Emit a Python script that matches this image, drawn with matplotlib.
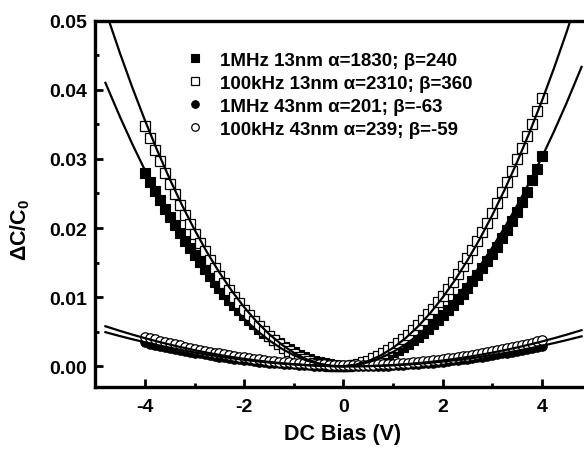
import numpy as np
import matplotlib
matplotlib.use("Agg")
import matplotlib.pyplot as plt

plt.rcParams['font.family'] = ['Liberation Sans', 'DejaVu Sans']
plt.rcParams['font.weight'] = 'bold'
plt.rcParams['axes.unicode_minus'] = False
plt.rcParams['mathtext.fontset'] = 'custom'
plt.rcParams['mathtext.rm'] = 'Liberation Sans:bold'
plt.rcParams['mathtext.it'] = 'Liberation Sans:bold'
plt.rcParams['mathtext.bf'] = 'Liberation Sans:bold'

# ---------------- data (values in units of 1e-6) ----------------
bias = [round(-4.0 + 0.1 * i, 1) for i in range(81)]

sq_1MHz_13nm = [28000, 26657, 25346, 24069, 22824, 21613, 20434, 19289, 18176, 17097,
                16050, 15037, 14056, 13109, 12194, 11313, 10464, 9649, 8866, 8117,
                7400, 6717, 6066, 5449, 4864, 4313, 3794, 3309, 2856, 2437,
                2050, 1697, 1376, 1089, 834, 613, 424, 269, 146, 57,
                0,
                47, 128, 243, 392, 575, 792, 1043, 1328, 1647, 2000,
                2387, 2808, 3263, 3752, 4275, 4832, 5423, 6048, 6707, 7400,
                8127, 8888, 9683, 10512, 11375, 12272, 13203, 14168, 15167, 16200,
                17317, 18488, 19703, 20972, 22325, 23762, 25283, 26880, 28600, 30400]

sq_100kHz_13nm = [34800, 33033, 31312, 29637, 28008, 26425, 24888, 23397, 21952, 20553,
                  19200, 17893, 16632, 15417, 14248, 13125, 12048, 11017, 10032, 9093,
                  8200, 7353, 6552, 5797, 5088, 4425, 3808, 3237, 2712, 2233,
                  1800, 1413, 1072, 777, 528, 325, 168, 57, -8, -27,
                  0,
                  73, 192, 357, 568, 825, 1128, 1477, 1872, 2313, 2800,
                  3333, 3912, 4537, 5208, 5925, 6688, 7497, 8352, 9253, 10200,
                  11193, 12232, 13317, 14448, 15625, 16848, 18117, 19432, 20793, 22200,
                  23653, 25152, 26697, 28288, 29925, 31608, 33337, 35112, 36933, 38800]

ci_1MHz_43nm = [3440, 3276, 3116, 2960, 2808, 2660, 2516, 2376, 2240, 2108,
                1980, 1856, 1736, 1620, 1508, 1400, 1296, 1196, 1100, 1008,
                920, 836, 756, 680, 608, 540, 476, 416, 360, 308,
                260, 216, 176, 140, 108, 80, 56, 36, 20, 8,
                0,
                -4, -4, 0, 8, 20, 36, 56, 80, 108, 140,
                176, 216, 260, 308, 360, 416, 476, 540, 608, 680,
                756, 836, 920, 1008, 1100, 1196, 1296, 1400, 1508, 1620,
                1736, 1856, 1980, 2108, 2240, 2376, 2516, 2660, 2808, 2960]

ci_100kHz_43nm = [4280, 4084, 3894, 3708, 3526, 3350, 3178, 3012, 2850, 2692,
                  2540, 2392, 2250, 2112, 1978, 1850, 1726, 1608, 1494, 1384,
                  1280, 1180, 1086, 996, 910, 830, 754, 684, 618, 556,
                  500, 448, 402, 360, 322, 290, 262, 240, 222, 208,
                  200,
                  196, 198, 204, 214, 230, 250, 276, 306, 340, 380,
                  424, 474, 528, 586, 650, 718, 792, 870, 952, 1040,
                  1132, 1230, 1332, 1438, 1550, 1666, 1788, 1914, 2044, 2180,
                  2320, 2466, 2616, 2770, 2930, 3094, 3262, 3436, 3614, 3800]

fit_bias = [-4.8, -4.5, -4.25, -4.0, -3.75, -3.5, -3.25, -3.0, -2.75, -2.5, -2.25, -2.0,
            -1.75, -1.5, -1.25, -1.0, -0.75, -0.5, -0.25, 0.0, 0.25, 0.5, 0.75, 1.0,
            1.25, 1.5, 1.75, 2.0, 2.25, 2.5, 2.75, 3.0, 3.25, 3.5, 3.75, 4.0, 4.25, 4.5, 4.8]

fit_1MHz_13nm = [41011, 35978, 32034, 28320, 24834, 21578, 18549, 15750, 13179, 10838, 8724, 6840,
                 5184, 3758, 2559, 1590, 849, 338, 54, 0, 174, 578, 1209, 2070,
                 3159, 4478, 6024, 7800, 9804, 12038, 14499, 17190, 20109, 23258, 26634, 30240,
                 34074, 38138, 43315]
fit_100kHz_13nm = [51494, 45158, 40194, 35520, 31134, 27038, 23229, 19710, 16479, 13538, 10884, 8520,
                   6444, 4658, 3159, 1950, 1029, 398, 54, 0, 234, 758, 1569, 2670,
                   4059, 5738, 7704, 9960, 12504, 15338, 18459, 21870, 25569, 29558, 33834, 38400,
                   43254, 48398, 54950]
fit_1MHz_43nm = [4933, 4354, 3898, 3468, 3063, 2683, 2328, 1998, 1693, 1414, 1159, 930,
                 726, 547, 393, 264, 160, 82, 28, 0, -3, 19, 66, 138,
                 235, 358, 505, 678, 876, 1099, 1347, 1620, 1918, 2242, 2590, 2964,
                 3363, 3787, 4329]
fit_100kHz_43nm = [5790, 5105, 4568, 4060, 3582, 3134, 2716, 2328, 1970, 1641, 1343, 1074,
                   835, 626, 447, 298, 179, 89, 30, 0, 0, 30, 90, 180,
                   300, 449, 629, 838, 1077, 1346, 1645, 1974, 2333, 2721, 3140, 3588,
                   4066, 4574, 5223]

labels = ['1MHz 13nm \u03b1=1830; \u03b2=240',
          '100kHz 13nm \u03b1=2310; \u03b2=360',
          '1MHz 43nm \u03b1=201; \u03b2=-63',
          '100kHz 43nm \u03b1=239; \u03b2=-59']

for s in (sq_1MHz_13nm, sq_100kHz_13nm, ci_1MHz_43nm, ci_100kHz_43nm):
    if len(s) != len(bias):
        raise ValueError("length mismatch %d" % len(s))
for s in (fit_1MHz_13nm, fit_100kHz_13nm, fit_1MHz_43nm, fit_100kHz_43nm):
    if len(s) != len(fit_bias):
        raise ValueError("fit length mismatch %d" % len(s))

U = 1e-6

# ---------------- figure ----------------
fig = plt.figure(figsize=(5.84, 4.56), dpi=100)
W, H = 584.0, 456.0
x0, x1 = 95.5, 591.5
y_top, y_bot = 21.7, 388.0
ax = fig.add_axes([x0 / W, 1 - y_bot / H, (x1 - x0) / W, (y_bot - y_top) / H])

ms = 6.8
h1, = ax.plot(bias, np.array(sq_1MHz_13nm) * U, ls='none', marker='s', ms=ms,
              mfc='black', mec='black', mew=0.8, zorder=3)
h2, = ax.plot(bias, np.array(sq_100kHz_13nm) * U, ls='none', marker='s', ms=ms,
              mfc='white', mec='black', mew=0.9, zorder=3)
h3, = ax.plot(bias, np.array(ci_1MHz_43nm) * U, ls='none', marker='o', ms=ms,
              mfc='black', mec='black', mew=0.8, zorder=3)
h4, = ax.plot(bias, np.array(ci_100kHz_43nm) * U, ls='none', marker='o', ms=ms,
              mfc='white', mec='black', mew=0.9, zorder=3)

for f in (fit_1MHz_13nm, fit_100kHz_13nm, fit_1MHz_43nm, fit_100kHz_43nm):
    ax.plot(fit_bias, np.array(f) * U, color='black', lw=1.6, zorder=4)

ax.set_xlim(-5, 5)
ax.set_ylim(-0.003, 0.05)
ax.set_xticks([-4, -2, 0, 2, 4])
ax.set_xticks([-3, -1, 1, 3], minor=True)
ax.set_xticklabels(['-4', '-2', '0', '2', '4'])
ax.set_yticks([0.0, 0.01, 0.02, 0.03, 0.04, 0.05])
ax.set_yticks([0.005, 0.015, 0.025, 0.035, 0.045], minor=True)
ax.set_yticklabels(['0.00', '0.01', '0.02', '0.03', '0.04', '0.05'])
ax.tick_params(which='both', direction='in', width=2.0, labelsize=14,
               top=False, right=False)
ax.tick_params(which='major', length=5.5)
ax.tick_params(which='minor', length=3.0)
ax.tick_params(axis='x', pad=8)
ax.tick_params(axis='y', pad=6)
for lab in ax.get_xticklabels() + ax.get_yticklabels():
    lab.set_fontweight('bold')
for sp in ax.spines.values():
    sp.set_linewidth(2.4)

fig.text(343 / W, 1 - 435 / H, 'DC Bias (V)', ha='center', va='center',
         fontsize=15.5, fontweight='bold')
fig.text(20 / W, 1 - 230 / H, '\u0394C/C$_0$', ha='center', va='center',
         rotation=90, fontsize=15.5, fontweight='bold')

leg = ax.legend([h1, h2, h3, h4], labels, loc='upper left',
                bbox_to_anchor=(0.182, 0.915), frameon=False,
                prop={'size': 13.5, 'weight': 'bold'},
                handlelength=1.0, handletextpad=0.83, borderpad=0.0,
                borderaxespad=0.0, labelspacing=0.31, markerscale=0.8,
                numpoints=1)

fig.savefig('out.png', dpi=100)
